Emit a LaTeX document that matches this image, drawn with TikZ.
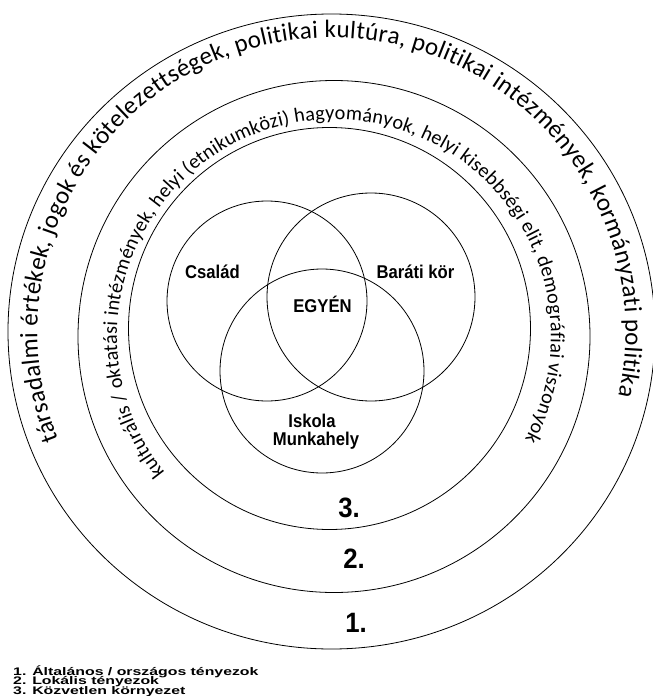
\documentclass[tikz,border=0pt]{standalone}
\usepackage{fontspec}
\usepackage{graphicx}
\setmainfont{Liberation Sans}
\newfontfamily\carl{Carlito}
\usetikzlibrary{decorations.text, shapes.geometric, calc}
\begin{document}
\begin{tikzpicture}[x=1pt,y=1pt,
  ringline/.style={draw, line width=0.8pt, inner sep=0pt},
  venn/.style={draw, line width=0.8pt, circle, inner sep=0pt},
  vlabel/.style={font=\fontsize{18.5}{20}\selectfont\bfseries, anchor=base, inner sep=0pt},
  numlabel/.style={font=\fontsize{28}{30}\selectfont\bfseries, anchor=base, inner sep=0pt},
  legend/.style={anchor=base west, inner sep=0pt, font=\fontsize{11}{11}\selectfont\bfseries}]
\useasboundingbox (0,0) rectangle (653,-696);
\fill[white] (0,0) rectangle (653,-696);
% rings
\node[ringline, ellipse, minimum width=647pt, minimum height=635pt] (outer) at (331.5,-331.5) {};
\node[ringline, circle, minimum size=512pt] (ring2) at (334,-336.5) {};
\node[ringline, circle, minimum size=402pt] (ring3) at (329.5,-328.5) {};
% venn
\node[venn, minimum size=200pt] (csalad) at (267,-301) {};
\node[venn, minimum size=208pt] (barati) at (371,-297) {};
\node[venn, minimum size=204pt] (iskola) at (322,-371) {};
% curved texts
\path[decorate, decoration={text along path, text align=fit to path,
  text={|\carl\fontsize{25}{25}\selectfont|társadalmi értékek, jogok és kötelezettségek, politikai kultúra, politikai intézmények, kormányzati politika}}]
  ($(outer.center)+(201.6:294)$) arc[start angle=201.6, end angle=-12.7, radius=294];
\path[decorate, decoration={text along path, text align=fit to path,
  text={|\carl\fontsize{20.2}{20.2}\selectfont|kulturális / oktatási intézmények, helyi (etnikumközi) hagyományok, helyi kisebbségi elit, demográfiai viszonyok}}]
  ($(ring2.center)+(218.8:217)$) arc[start angle=218.8, end angle=-28.4, radius=217];
% labels
\node[vlabel] (lcsalad) at (212.5,-278) {\scalebox{0.9}[1]{Család}};
\node[vlabel] (lbarati) at (415.5,-278) {\scalebox{0.9}[1]{Baráti kör}};
\node[vlabel] (legyen) at (322.5,-312) {\scalebox{0.9}[1]{EGYÉN}};
\node[vlabel] (liskola) at (312,-427) {\scalebox{0.9}[1]{Iskola}};
\node[vlabel] (lmunka) at (316,-445) {\scalebox{0.9}[1]{Munkahely}};
\node[numlabel] (n3) at (349,-517) {\scalebox{0.92}[1]{3.}};
\node[numlabel] (n2) at (354,-568) {\scalebox{0.92}[1]{2.}};
\node[numlabel] (n1) at (356,-632) {\scalebox{0.92}[1]{1.}};
% legend
\node[legend] (leg1) at (13,-675) {\scalebox{1.44}[1]{1. Általános / országos tényezok}};
\node[legend] (leg2) at (13,-684.5) {\scalebox{1.44}[1]{2. Lokális tényezok}};
\node[legend] (leg3) at (13,-694.5) {\scalebox{1.44}[1]{3. Közvetlen környezet}};
\end{tikzpicture}
\end{document}
